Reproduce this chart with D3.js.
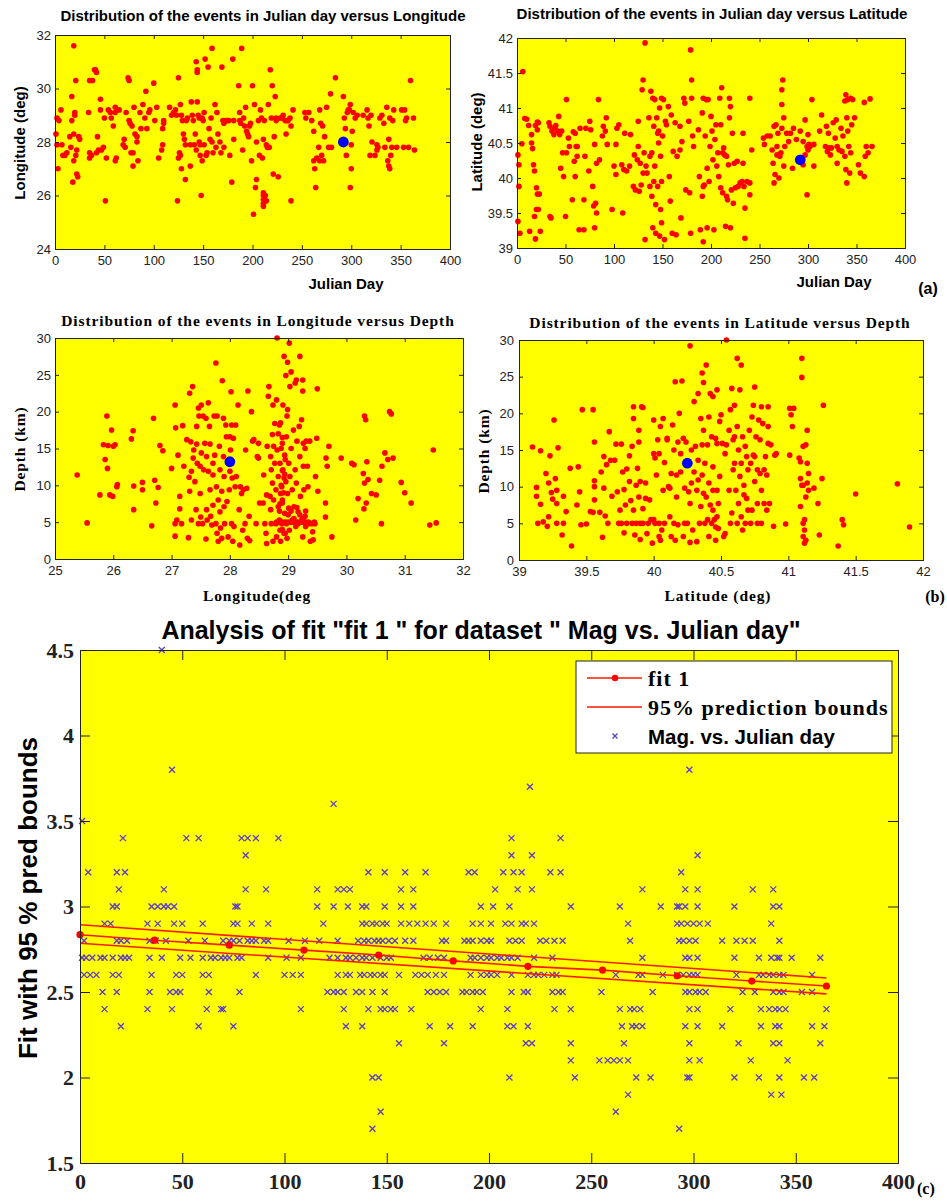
<!DOCTYPE html>
<html>
<head>
<meta charset="utf-8">
<script src="https://cdn.jsdelivr.net/npm/d3@7"></script>
<style>
  body { margin: 0; background: #fff; }
  svg { display: block; }
</style>
</head>
<body>
<script>

// ---- panel 1: julian day vs longitude ----
var dayLon = [[1,28.3],[2,28.9],[2,27.9],[3,27.0],[6,29.2],[4,28.8],[7,27.9],[8,27.5],[10,27.5],[12,27.6],[15,28.2],[16,27.8],[17,29.7],[17,28.8],[18,26.5],[19,28.3],[19,31.6],[19,27.3],[20,29.1],[20,29.0],[21,30.3],[21,27.5],[22,27.7],[22,26.8],[23,26.7],[24,28.2],[25,28.1],
  [34,29.1],[35,30.3],[35,27.6],[35,27.4],[37,27.5],[38,30.3],[40,30.7],[41,30.7],[42,30.6],[42,27.6],[43,28.2],[44,27.7],[46,29.6],[46,29.2],[47,27.7],[49,27.8],[50,28.9],[51,25.8],[52,27.4],[54,29.2],[56,29.1],[57,28.9],[59,28.6],[61,29.3],[61,29.1],[61,27.3],[62,27.4],[65,29.2],
  [69,27.9],[70,28.1],[71,27.8],[72,29.1],[74,30.4],[75,30.3],[75,28.8],[76,28.7],[77,27.6],[78,28.6],[79,27.6],[79,27.1],[80,29.3],[81,28.3],[83,28.0],[83,28.2],[84,27.3],[86,29.1],[87,28.5],[89,29.4],[91,28.9],[92,29.9],[93,28.5],[95,29.1],[96,29.2],[100,30.2],[101,28.8],[103,29.3],[105,27.4],[108,27.7],[109,27.9],[109,28.5],[110,28.7],[110,28.8],
  [116,29.3],[118,29.0],[120,29.1],[122,29.2],[123,29.0],[125,30.4],[124,25.8],[125,27.4],[126,27.6],[127,29.4],[127,27.5],[128,27.0],[128,29.0],[129,28.8],[130,28.3],[131,28.1],[132,26.6],[132,27.9],[133,28.8],[134,28.9],[137,27.1],[137,27.9],[138,29.5],[139,29.0],[140,28.8],[141,27.9],[142,28.3],[143,27.7],[143,31.0],[144,30.7],[144,29.5],[144,30.6],[145,29.0],[146,28.9],[146,28.0],[147,27.9],[147,27.5],[148,26.0],[149,28.9],[149,27.3],[150,28.8],[151,29.1],[151,27.9],[152,31.1],[153,27.5],[154,27.6],[155,30.8],[156,28.5],[157,28.1],[158,28.9],[159,31.5],[159,28.0],[160,27.6],[162,29.4],[163,27.8],[164,29.1],[165,28.3],[167,28.0],[168,27.6],[169,30.8],[170,28.8],[171,28.7],[171,27.8],[173,28.8],[174,28.8],[176,28.8],[177,27.5],[179,26.5],[180,31.1],[181,28.8],[181,28.1],
  [186,30.1],[187,29.1],[187,28.8],[188,28.7],[189,31.5],[190,27.7],[191,28.9],[192,28.6],[193,29.3],[194,28.4],[195,28.3],[196,28.2],[197,28.6],[198,28.7],[199,27.3],[200,30.1],[201,25.3],[202,29.4],[203,26.3],[204,26.6],[204,28.0],[206,28.8],[207,27.5],[208,29.2],[209,28.9],[210,27.4],[211,28.1],[212,28.8],[213,26.0],[214,25.8],[214,27.9],[215,27.8],[216,29.4],[217,27.8],[218,30.7],[219,28.9],[220,30.1],[221,26.8],[222,28.2],[223,29.7],[224,28.8],[224,28.9],[226,26.7],[228,28.9],[230,28.9],[231,29.0],[233,28.8],[234,28.3],[235,28.8],[236,28.8],[238,28.9],[239,25.8],[239,28.6],[241,29.2],
  [211,25.6],[211,25.7],[211,25.85],[211,26.0],[211,26.1],
  [253,29.1],[254,28.9],[257,29.1],[260,28.8],[262,28.4],[262,27.3],[263,27.0],[264,26.3],[265,27.4],[267,27.8],[268,27.3],[268,29.2],[269,28.7],[270,27.5],[271,28.6],[272,27.3],[273,28.2],[275,29.3],[277,27.8],[279,29.8],[280,27.8],[284,30.4],
  [292,29.7],[293,28.9],[294,28.5],[295,27.5],[296,29.1],[297,29.2],[298,29.2],[299,26.3],[299,29.4],[300,27.0],[300,27.9],[301,28.4],[302,29.1],[304,28.9],[306,29.0],
  [312,29.0],[316,29.2],[317,28.9],[318,28.6],[319,27.5],[320,29.0],[321,28.0],[324,27.5],[326,27.7],[326,27.9],[327,27.8],[329,28.9],[331,29.0],[333,28.7],[334,27.8],[336,29.3],[337,27.3],[338,28.1],[338,27.1],[339,27.0],[339,28.9],[340,27.5],[341,27.8],[342,28.8],[343,29.2],[346,27.8],[351,29.2],[353,27.8],[354,29.2],[355,28.8],[356,28.9],[358,27.8],[360,30.3],[363,28.9],[364,27.7]];
var mainDayLon = [292, 28.0];

// ---- panel 2: julian day vs latitude ----
var dayLat = [[1,40.33],[2,40.19],[2,39.88],[1,39.38],[3,39.21],[5,40.49],[6,41.52],[8,40.85],[10,40.84],[12,40.75],[13,39.24],[15,40.62],[15,40.5],[16,40.42],[17,40.19],[18,40.1],[18,39.45],[19,39.13],[20,39.86],[21,39.77],[20,39.55],[22,39.55],[21,40.8],[22,40.79],[19,40.75],[21,40.69],[24,39.24],[23,39.77],
  [33,40.79],[34,40.74],[34,39.45],[35,39.43],[36,40.67],[38,40.62],[39,40.71],[40,40.75],[42,40.67],[43,40.88],[44,40.62],[45,40.14],[46,40.67],[47,40.36],[48,40.02],[50,39.45],[51,41.12],[51,40.36],[53,40.57],[54,40.45],[57,39.69],[58,40.66],[59,40.24],[60,40.64],[60,40.02],[61,40.45],[62,40.31],[62,40.45],[64,39.26],[65,40.71],[69,39.26],[69,39.69],[70,40.31],[71,40.71],[74,40.1],[75,40.81],[76,40.69],[78,39.88],[79,39.6],[80,40.48],[80,39.29],[81,39.64],[82,40.21],[82,39.5],[84,41.12],[85,40.26],[88,40.6],[89,40.74],[92,40.86],[93,40.48],[91,40.67],[98,39.55],[100,40.17],[102,40.05],[103,40.71],[102,40.48],[105,40.76],[108,40.19],[109,39.5],[110,40.12],[111,40.64],[113,40.1],[116,40.17],[117,40.62],
  [120,39.88],[121,40.33],[122,39.83],[124,40.26],[125,40.81],[125,40.45],[126,39.81],[127,40.21],[128,39.9],[129,41.26],[130,41.4],[130,40.07],[131,40.36],[132,41.93],[132,39.12],[133,40.17],[134,40.07],[136,40.86],[137,39.88],[137,40.31],[138,41.24],[139,40.36],[139,39.74],[140,41.14],[140,39.29],[141,39.95],[141,40.74],[142,40.17],[142,41.12],[143,39.62],[143,39.21],[144,40.86],[145,40.64],[145,39.88],[146,40.67],[146,40.5],[147,41.0],[147,39.17],[148,40.31],[148,39.55],[149,39.95],[149,39.36],[149,41.14],[150,40.6],[151,41.12],[152,39.12],[153,40.81],[154,40.76],[156,41.02],[157,40.02],[158,39.67],[159,40.9],[160,39.21],[161,40.38],[163,40.79],[164,39.19],[165,40.31],[168,40.4],[168,40.74],[169,39.43],[170,40.52],[172,41.14],[173,41.07],[174,39.83],[177,40.81],[178,39.79],[179,39.21],[179,41.83],[180,41.4],[180,41.14],[181,40.6],[182,40.45],
  [187,40.69],[188,40.02],[189,39.26],[191,40.93],[191,39.74],[192,41.14],[192,39.09],[192,39.88],[193,39.9],[194,40.6],[195,41.12],[196,40.14],[196,39.29],[197,41.12],[198,39.95],[199,40.45],[200,40.88],[201,40.67],[202,40.26],[203,39.26],[204,40.55],[205,40.76],[206,40.17],[207,40.36],[208,40.02],[209,41.14],[210,39.86],[210,40.76],[211,41.29],[212,40.36],[212,39.79],[213,40.43],[214,40.33],[215,39.31],[216,39.74],[216,40.31],[217,39.69],[218,40.19],[219,40.86],[219,41.14],[220,41.02],[220,39.29],[221,39.83],[222,40.64],[223,39.64],[224,40.21],[225,39.86],[227,40.24],[228,39.88],[230,39.93],[232,39.95],[233,40.64],[233,40.21],[234,39.88],[235,39.57],[235,39.14],[237,39.95],[240,39.93],[240,41.14],[240,39.76],[242,40.4],
  [254,40.57],[255,40.48],[258,40.6],[261,40.6],[263,40.4],[264,40.21],[265,40.74],[265,39.93],[266,40.05],[267,40.76],[268,40.33],[268,40.45],[269,40.64],[270,40.0],[271,40.31],[272,40.36],[273,41.05],[273,40.71],[273,41.26],[274,41.4],[275,40.86],[275,40.17],[276,40.45],[278,40.64],[280,40.52],[282,40.64],[285,40.71],[284,40.14],[288,40.55],[292,40.67],[295,40.52],[295,40.19],[297,40.83],[297,40.33],[299,40.45],[299,39.76],[300,40.62],[300,40.4],[301,40.48],[302,40.45],[304,41.12],[306,40.17],[306,40.48],
  [312,40.67],[314,40.9],[318,40.45],[319,40.74],[320,40.38],[321,40.64],[322,40.43],[323,40.33],[324,40.43],[326,40.79],[328,40.57],[329,40.83],[330,40.21],[330,40.45],[332,40.4],[334,40.71],[335,40.38],[336,40.6],[338,40.31],[338,41.1],[339,41.19],[339,40.12],[340,40.86],[340,39.93],[341,40.67],[341,41.12],[342,40.45],[343,40.07],[344,41.14],[344,40.36],[345,40.76],[346,41.12],[348,40.86],[352,40.19],[354,40.07],[358,41.08],[358,40.02],[359,40.31],[360,40.45],[362,40.36],[364,41.13],[366,40.45]];
var mainDayLat = [292, 40.26];

// ---- panel 3: longitude vs depth ----
var lonDepth = [[25.38,11.4],[25.55,4.9],[25.77,8.7],[25.83,15.5],[25.86,13.5],[25.89,19.4],[25.9,12.3],[25.91,15.4],[25.94,8.7],[25.97,17.5],[25.99,8.5],[26.0,15.3],[26.03,15.5],[26.06,9.8],[26.07,10.1],[26.31,16.3],[26.34,17.4],[26.35,9.9],[26.35,6.7],[26.5,10.4],[26.5,9.4],[26.66,4.5],[26.69,19.1],[26.71,10.7],[26.73,7.6],[26.77,9.7],[26.8,15.4],[26.85,14.7],
  [27.0,12.3],[27.06,4.8],[27.06,3.1],[27.07,17.8],[27.06,20.9],[27.09,5.3],[27.11,14.1],[27.14,8.5],[27.14,6.8],[27.17,4.8],[27.19,18.1],[27.21,12.6],[27.26,16.2],[27.29,2.9],[27.3,11.1],[27.31,22.5],[27.31,9.2],[27.33,15.9],[27.34,11.9],[27.34,5.3],[27.36,23.4],[27.37,13.7],[27.38,14.8],[27.4,10.5],[27.42,6.7],[27.43,18.0],[27.43,15.6],[27.44,13.0],[27.46,20.5],[27.46,4.8],[27.47,19.4],[27.49,12.6],[27.49,8.9],[27.5,5.7],[27.51,20.9],[27.51,14.4],[27.53,4.8],[27.54,19.4],[27.55,12.1],[27.57,15.7],[27.59,19.1],[27.59,2.7],[27.6,13.9],[27.6,6.7],[27.61,5.3],[27.63,21.2],[27.63,11.9],[27.65,18.0],[27.66,15.6],[27.66,9.4],[27.67,5.8],[27.69,4.6],[27.71,13.0],[27.71,7.3],[27.71,11.4],[27.73,19.4],[27.74,14.1],[27.76,26.6],[27.76,4.8],[27.77,9.8],[27.78,3.5],[27.78,19.4],[27.8,8.0],[27.8,2.4],[27.82,15.3],[27.83,12.1],[27.83,6.4],[27.84,4.2],[27.86,9.2],[27.86,2.8],[27.87,24.2],[27.89,19.1],[27.89,13.9],[27.9,11.2],[27.9,7.1],[27.91,4.8],[27.93,18.2],[27.94,16.6],[27.95,7.8],[27.97,3.0],[27.99,9.4],[28.0,16.6],[28.0,11.9],[28.01,14.8],[28.02,22.7],[28.03,4.8],[28.03,18.2],[28.04,11.0],[28.05,2.4],[28.06,16.4],[28.07,4.4],[28.09,9.8],[28.1,18.2],[28.11,11.2],[28.14,20.9],[28.16,6.7],[28.17,1.9],[28.18,9.8],[28.2,8.9],[28.22,3.9],[28.23,9.4],[28.26,4.8],[28.27,14.8],[28.29,9.6],[28.3,2.8],[28.31,22.8],[28.33,5.8],[28.34,2.5],[28.37,20.0],[28.39,16.0],[28.41,16.2],[28.45,4.8],[28.47,13.9],[28.49,13.7],[28.49,15.7],[28.51,7.6],
  [28.57,7.6],[28.58,11.4],[28.6,4.8],[28.62,3.5],[28.63,2.1],[28.63,8.7],[28.64,15.3],[28.66,22.1],[28.67,23.4],[28.69,8.5],[28.7,6.7],[28.7,13.9],[28.71,4.8],[28.71,12.1],[28.73,10.3],[28.73,16.9],[28.74,20.9],[28.74,2.4],[28.75,15.3],[28.75,8.0],[28.77,18.4],[28.77,13.0],[28.79,9.4],[28.79,4.8],[28.8,21.6],[28.8,3.0],[28.81,30.0],[28.81,14.8],[28.83,7.1],[28.83,11.2],[28.85,18.2],[28.85,5.3],[28.86,3.9],[28.86,13.0],[28.87,8.9],[28.87,2.4],[28.89,9.8],[28.89,4.8],[28.9,15.7],[28.9,7.6],[28.91,20.9],[28.91,12.1],[28.93,27.5],[28.93,3.5],[28.94,6.2],[28.94,14.1],[28.96,24.9],[28.96,10.5],[28.97,16.6],[28.97,4.8],[28.98,19.4],[28.98,2.8],[28.99,26.7],[28.99,20.3],[28.99,8.9],[29.01,6.9],[29.01,13.0],[29.02,29.3],[29.02,3.9],[29.03,23.4],[29.03,11.2],[29.05,25.4],[29.05,15.0],[29.07,5.3],[29.07,9.4],[29.09,17.5],[29.1,7.1],[29.12,23.9],[29.12,12.1],[29.13,4.4],[29.14,24.3],[29.14,10.3],[29.15,16.0],[29.17,6.4],[29.17,4.8],[29.19,18.0],[29.2,27.5],[29.2,13.9],[29.21,8.5],[29.23,18.9],[29.23,5.3],[29.25,24.3],[29.25,22.8],[29.25,3.0],[29.26,15.7],[29.26,12.6],[29.27,9.4],[29.29,5.8],[29.29,15.0],[29.3,4.4],[29.31,16.0],[29.33,12.6],[29.34,9.8],[29.34,4.8],[29.37,16.0],[29.38,2.4],[29.4,4.8],[29.42,3.7],[29.43,2.6],[29.46,4.8],[29.47,11.2],[29.49,16.4],[29.5,23.1],[29.51,9.2],
  [28.8,5.0],[28.85,5.0],[28.9,5.0],[28.95,5.0],[29.0,5.0],[29.05,5.0],[29.1,5.0],[29.15,5.0],[29.2,5.0],[29.25,5.0],[29.3,5.0],[29.35,5.0],[29.45,5.0],[28.9,4.0],[28.95,3.5],[29.0,6.0],[28.85,6.5],[28.9,8.0],[28.92,9.0],[28.88,10.0],[28.93,11.0],[28.9,12.0],[28.95,13.5],[28.88,15.0],[28.83,17.0],[28.87,18.5],[28.9,16.5],[28.94,11.5],[28.86,7.5],[29.05,6.5],[29.1,5.5],[29.2,6.0],[29.15,7.0],[29.25,5.5],[29.3,6.5],
  [29.64,7.6],[29.64,5.7],[29.65,13.7],[29.67,12.6],[29.7,15.3],[29.75,3.0],[29.91,13.7],[30.09,13.0],[30.13,12.8],[30.16,5.3],[30.2,8.2],[30.29,11.6],[30.3,6.8],[30.31,10.3],[30.31,19.4],[30.33,18.9],[30.34,7.6],[30.35,13.2],[30.37,10.8],[30.43,8.9],[30.51,8.7],[30.57,10.7],[30.6,4.8],[30.61,12.6],[30.66,14.4],[30.71,13.5],[30.74,20.0],[30.77,19.7],[30.8,13.7],[30.94,10.4],[31.0,9.0],[31.11,7.6],[31.43,4.6],[31.49,14.8],[31.54,4.9]];
var mainLonDepth = [28.0, 13.2];

// ---- panel 4: latitude vs depth ----
var latDepth = [[39.1,15.4],[39.13,9.9],[39.13,8.7],[39.14,5.0],[39.16,7.6],[39.16,14.9],[39.18,5.2],[39.2,11.8],[39.21,4.6],[39.22,5.9],[39.22,10.5],[39.23,14.2],[39.24,9.2],[39.25,8.3],[39.26,19.1],[39.27,11.1],[39.28,7.7],[39.28,9.5],[39.28,5.0],[39.29,15.3],[39.32,3.4],[39.33,5.0],[39.33,8.7],[39.35,6.6],[39.38,12.5],[39.39,1.9],[39.43,7.5],[39.44,12.7],[39.45,9.3],[39.46,4.8],[39.47,20.5],[39.5,4.9],[39.53,6.6],[39.55,20.5],[39.55,6.5],[39.56,16.1],[39.56,10.8],[39.56,10.0],[39.56,8.2],[39.6,6.5],[39.61,12.0],[39.62,3.1],[39.63,14.1],[39.63,9.8],[39.64,6.0],[39.65,13.0],[39.66,5.0],[39.67,17.5],[39.68,13.6],[39.69,8.7],[39.71,13.6],[39.72,15.8],[39.73,9.3],[39.74,5.0],[39.75,6.8],[39.76,15.8],[39.76,5.0],[39.77,12.0],[39.78,9.6],[39.78,3.7],[39.79,7.5],[39.8,5.0],[39.8,12.4],[39.82,10.7],[39.82,14.2],[39.83,8.1],[39.84,5.0],[39.84,15.5],[39.85,20.9],[39.85,6.8],[39.85,19.3],[39.86,3.4],[39.87,10.2],[39.87,5.0],[39.88,12.5],[39.89,16.1],[39.89,8.6],[39.89,17.7],[39.9,5.0],[39.9,2.8],[39.9,10.7],[39.91,20.9],[39.92,7.0],[39.92,5.0],[39.92,20.8],[39.94,10.5],[39.94,8.4],[39.95,3.6],[39.96,5.0],[39.97,8.2],[39.98,5.5],[39.99,2.3],
  [40.0,5.5],[40.0,14.5],[40.0,19.1],[40.01,13.9],[40.01,5.0],[40.02,11.6],[40.03,16.4],[40.04,5.0],[40.04,3.2],[40.04,14.5],[40.05,18.2],[40.05,2.7],[40.06,4.1],[40.07,19.3],[40.07,9.5],[40.08,5.0],[40.08,13.3],[40.1,16.6],[40.1,16.4],[40.11,10.0],[40.12,5.9],[40.12,9.8],[40.13,3.2],[40.13,11.8],[40.14,18.4],[40.15,5.0],[40.15,15.0],[40.16,24.3],[40.16,2.7],[40.17,11.6],[40.17,8.6],[40.18,4.8],[40.18,16.1],[40.19,20.0],[40.2,14.5],[40.2,12.0],[40.21,24.4],[40.22,16.6],[40.22,3.2],[40.23,5.0],[40.23,9.8],[40.24,16.1],[40.25,13.2],[40.25,5.0],[40.26,9.3],[40.27,7.7],[40.27,29.2],[40.27,2.4],[40.28,10.5],[40.28,15.0],[40.29,4.1],[40.3,21.6],[40.3,12.0],[40.31,15.5],[40.32,9.5],[40.32,2.5],[40.33,13.6],[40.33,22.7],[40.33,10.9],[40.34,5.0],[40.35,19.3],[40.35,7.3],[40.36,25.5],[40.36,15.7],[40.36,11.6],[40.37,17.7],[40.37,9.1],[40.37,24.2],[40.38,5.0],[40.38,13.2],[40.39,8.6],[40.39,26.6],[40.4,15.7],[40.4,5.5],[40.41,10.5],[40.41,19.5],[40.41,3.2],[40.42,22.7],[40.42,7.5],[40.43,16.8],[40.43,5.0],[40.44,22.3],[40.44,12.7],[40.44,9.5],[40.44,6.8],[40.45,5.5],[40.46,4.5],[40.46,16.6],[40.46,2.7],[40.47,9.5],[40.47,5.9],[40.47,23.2],[40.47,15.9],[40.48,7.7],[40.48,4.3],[40.49,18.9],[40.49,11.4],[40.5,19.8],[40.51,15.9],[40.52,3.2],[40.53,3.6],[40.53,14.5],[40.54,30.0],[40.54,15.7],[40.56,17.7],[40.56,9.5],[40.57,5.0],[40.57,20.5],[40.58,23.4],[40.58,6.4],[40.59,16.4],[40.59,12.3],[40.6,13.2],[40.6,21.1],[40.6,16.8],[40.61,9.5],[40.62,5.0],[40.62,27.5],[40.62,18.2],[40.63,7.7],[40.63,15.0],[40.64,11.4],[40.64,23.2],[40.65,5.9],[40.65,26.6],[40.65,13.2],[40.66,4.1],[40.66,16.8],[40.67,8.9],[40.67,10.2],[40.68,15.5],[40.68,5.0],[40.69,8.4],[40.69,14.1],[40.7,12.3],[40.7,6.8],[40.71,17.7],[40.72,13.2],[40.72,5.0],[40.73,6.8],[40.73,19.5],[40.74,14.3],[40.74,21.1],[40.75,23.6],[40.75,10.7],[40.75,14.1],[40.76,16.8],[40.77,12.3],[40.77,7.7],[40.77,5.0],[40.78,19.1],[40.79,11.8],[40.79,16.4],[40.8,9.5],[40.8,20.9],[40.8,5.0],[40.81,18.6],[40.82,12.3],[40.82,7.7],[40.83,14.1],[40.84,6.8],[40.84,11.6],[40.85,15.9],[40.85,20.9],[40.85,18.2],[40.86,7.7],[40.87,15.7],[40.89,4.6],[40.9,14.3],[40.91,14.5],
  [40.98,4.9],[41.01,20.7],[41.01,14.3],[41.02,19.8],[41.03,18.2],[41.04,20.7],[41.08,13.9],[41.09,13.4],[41.09,11.1],[41.09,7.3],[41.1,27.5],[41.1,24.9],[41.1,10.2],[41.11,5.0],[41.11,3.2],[41.11,15.5],[41.11,10.2],[41.12,2.3],[41.12,5.5],[41.12,4.1],[41.13,2.7],[41.13,8.6],[41.13,15.7],[41.14,10.5],[41.14,17.7],[41.14,13.2],[41.15,11.8],[41.15,9.5],[41.19,9.8],[41.22,7.7],[41.23,3.4],[41.25,11.1],[41.26,21.1],[41.37,1.9],[41.4,5.5],[41.41,4.8],[41.5,9.0],[41.81,10.4],[41.9,4.5]];
var mainLatDepth = [40.25, 13.2];

// ---- panel 5: magnitude vs julian day, grouped by magnitude ----
var magLevels = [4.5, 3.8, 3.7, 3.6, 3.5, 3.4, 3.3, 3.2, 3.1, 3.0, 2.9, 2.8, 2.7, 2.6, 2.5, 2.4, 2.3, 2.2, 2.1, 2.0, 1.9, 1.8, 1.7];
var magDays = [
  [40],
  [45, 298],
  [220],
  [124],
  [1],
  [21, 52, 58, 79, 82, 86, 97, 211, 235],
  [81, 211, 221, 302],
  [4, 18, 22, 141, 149, 159, 169, 190, 193, 207, 212, 216, 230, 235, 294],
  [19, 41, 81, 91, 116, 126, 129, 132, 157, 163, 203, 214, 221, 275, 296, 302, 329, 339],
  [16, 18, 35, 38, 41, 43, 46, 76, 77, 116, 124, 131, 138, 140, 149, 157, 163, 196, 202, 210, 240, 264, 284, 292, 293, 296, 302, 320, 339, 342],
  [12, 15, 33, 38, 46, 50, 60, 75, 77, 84, 92, 119, 138, 140, 143, 145, 148, 150, 157, 161, 165, 169, 173, 179, 192, 196, 201, 208, 211, 216, 218, 222, 268, 292, 294, 297, 300, 303, 307, 338],
  [2, 18, 20, 23, 34, 37, 42, 53, 61, 70, 73, 75, 78, 82, 84, 86, 90, 92, 102, 110, 117, 126, 136, 139, 141, 144, 146, 148, 151, 154, 159, 163, 177, 179, 188, 190, 192, 196, 199, 201, 210, 213, 216, 225, 228, 232, 236, 269, 293, 295, 298, 301, 314, 321, 325, 329, 342],
  [1, 3, 6, 10, 12, 16, 20, 22, 24, 34, 40, 49, 54, 60, 64, 66, 69, 71, 73, 77, 79, 92, 101, 108, 122, 126, 130, 132, 135, 138, 140, 143, 147, 150, 152, 168, 171, 175, 178, 191, 193, 196, 199, 201, 204, 206, 209, 211, 214, 222, 231, 275, 296, 298, 302, 320, 332, 338, 341, 342, 348, 362],
  [2, 5, 8, 16, 19, 35, 47, 50, 60, 63, 86, 100, 104, 108, 126, 130, 132, 137, 139, 142, 144, 147, 149, 156, 164, 167, 170, 174, 178, 191, 196, 199, 201, 204, 211, 219, 222, 224, 227, 231, 233, 262, 273, 275, 285, 292, 295, 298, 300, 302, 321, 332, 334, 337, 339, 342, 344, 358],
  [11, 18, 34, 44, 47, 49, 63, 78, 121, 124, 126, 129, 135, 138, 143, 149, 170, 173, 176, 179, 187, 189, 192, 194, 197, 211, 217, 219, 231, 234, 236, 255, 280, 296, 298, 301, 303, 306, 324, 330, 339, 342, 344, 353, 358],
  [12, 33, 45, 62, 69, 70, 108, 129, 141, 147, 149, 152, 154, 162, 196, 209, 232, 240, 264, 269, 271, 274, 298, 302, 318, 333, 337, 340, 342, 345, 365],
  [20, 58, 75, 130, 138, 171, 181, 192, 209, 212, 219, 265, 270, 272, 275, 296, 302, 314, 333, 340, 342, 358, 364],
  [156, 178, 218, 221, 240, 266, 298, 322, 339, 342, 362],
  [240, 254, 258, 261, 264, 268, 298, 303, 328, 346],
  [143, 146, 210, 242, 272, 279, 297, 298, 320, 332, 342, 354, 359],
  [268, 338, 343],
  [147, 262],
  [143, 293]
];
// fitted line (points every 36.5 days) and prediction bounds
var fitDays = [0, 36.5, 73, 109.5, 146, 182.5, 219, 255.5, 292, 328.5, 365];
var fitMag = [2.835, 2.803, 2.774, 2.745, 2.716, 2.682, 2.65, 2.628, 2.595, 2.564, 2.535];
var boundDays = [0, 365];
var upperBound = [2.893, 2.582];
var lowerBound = [2.785, 2.489];

var W = 947, H = 1201;
var svg = d3.select("body").append("svg").attr("width", W).attr("height", H);

var SANS = "Arial, 'Liberation Sans', Helvetica, sans-serif";
var SERIF = "'Times New Roman', 'Liberation Serif', serif";

function fmt(d) { return String(d); }

// frame + inward ticks on all four sides
function frame(g, x, y, o) {
  var ax = g.append("g").attr("transform", "translate(0," + o.b + ")")
    .call(d3.axisBottom(x).tickValues(o.xt).tickSize(-o.tk).tickPadding(o.xpad).tickFormat(fmt));
  var ay = g.append("g").attr("transform", "translate(" + o.l + ",0)")
    .call(d3.axisLeft(y).tickValues(o.yt).tickSize(-o.tk).tickPadding(o.ypad).tickFormat(fmt));
  g.append("g").attr("transform", "translate(0," + o.t + ")")
    .call(d3.axisTop(x).tickValues(o.xt).tickSize(-o.tk).tickFormat(""));
  g.append("g").attr("transform", "translate(" + o.r + ",0)")
    .call(d3.axisRight(y).tickValues(o.yt).tickSize(-o.tk).tickFormat(""));
  [ax, ay].forEach(function(a) {
    a.attr("font-family", o.tf).attr("font-size", o.ts).attr("font-weight", o.tw || "normal");
    a.selectAll("text").attr("fill", "#222");
  });
  g.selectAll(".domain").attr("stroke", "#222");
  g.selectAll(".tick line").attr("stroke", "#222");
}

function scatter(o) {
  var x = d3.scaleLinear().domain(o.xd).range([o.l, o.r]);
  var y = d3.scaleLinear().domain(o.yd).range([o.b, o.t]);
  var g = svg.append("g");
  g.append("rect").attr("x", o.l).attr("y", o.t).attr("width", o.r - o.l).attr("height", o.b - o.t)
    .attr("fill", "#ffff00");
  g.selectAll("circle.pt").data(o.pts).enter().append("circle")
    .attr("class", "pt")
    .attr("cx", function(d) { return x(d[0]); })
    .attr("cy", function(d) { return y(d[1]); })
    .attr("r", 2.8)
    .attr("fill", "#ff0000");
  g.append("circle").attr("cx", x(o.main[0])).attr("cy", y(o.main[1])).attr("r", 5.4).attr("fill", "#0000ff");
  frame(g, x, y, o);

  var ls = o.ls || 0;
  g.append("text").attr("x", o.titleX).attr("y", o.titleY).attr("text-anchor", "middle")
    .attr("font-family", o.lf).attr("font-weight", "bold").attr("font-size", o.titleS)
    .attr("letter-spacing", ls)
    .text(o.title);
  g.append("text").attr("x", o.xlX).attr("y", o.xlY).attr("text-anchor", "middle")
    .attr("font-family", o.lf).attr("font-weight", "bold").attr("font-size", o.labS)
    .attr("letter-spacing", ls)
    .text(o.xl);
  g.append("text").attr("transform", "translate(" + o.ylX + "," + o.ylY + ") rotate(-90)")
    .attr("text-anchor", "middle")
    .attr("font-family", o.lf).attr("font-weight", "bold").attr("font-size", o.labS)
    .attr("letter-spacing", ls)
    .text(o.yl);
}

scatter({ pts: dayLon, main: mainDayLon, xd: [0, 400], yd: [24, 32], l: 55, r: 450, t: 35, b: 249,
  xt: d3.range(0, 401, 50), yt: [24, 26, 28, 30, 32], tk: 4, xpad: 7, ypad: 4, tf: SANS, ts: 13,
  lf: SANS, title: "Distribution of the events in Julian day versus Longitude", titleX: 263, titleY: 21, titleS: 15,
  xl: "Julian Day", xlX: 346, xlY: 289, yl: "Longitude (deg)", ylX: 25, ylY: 143, labS: 15 });

scatter({ pts: dayLat, main: mainDayLat, xd: [0, 400], yd: [39, 42], l: 517, r: 905, t: 38, b: 248,
  xt: d3.range(0, 401, 50), yt: [39, 39.5, 40, 40.5, 41, 41.5, 42], tk: 4, xpad: 7, ypad: 4, tf: SANS, ts: 13,
  lf: SANS, title: "Distribution of the events in Julian day versus Latitude", titleX: 712, titleY: 19, titleS: 15,
  xl: "Julian Day", xlX: 834, xlY: 287, yl: "Latitude (deg)", ylX: 482, ylY: 142, labS: 15 });

scatter({ pts: lonDepth, main: mainLonDepth, xd: [25, 32], yd: [0, 30], l: 55, r: 463, t: 338, b: 559,
  xt: d3.range(25, 33, 1), yt: [0, 5, 10, 15, 20, 25, 30], tk: 4, xpad: 7, ypad: 4, tf: SANS, ts: 13,
  lf: SERIF, ls: 0.9, title: "Distribution of the events in  Longitude versus Depth", titleX: 258, titleY: 326, titleS: 15.5,
  xl: "Longitude(deg", xlX: 257, xlY: 601, yl: "Depth (km)", ylX: 25, ylY: 449, labS: 15.5 });

scatter({ pts: latDepth, main: mainLatDepth, xd: [39, 42], yd: [0, 30], l: 519, r: 923, t: 340, b: 560,
  xt: [39, 39.5, 40, 40.5, 41, 41.5, 42], yt: [0, 5, 10, 15, 20, 25, 30], tk: 4, xpad: 7, ypad: 5, tf: SANS, ts: 13,
  lf: SERIF, ls: 0.9, title: "Distribution of the events in Latitude versus Depth", titleX: 720, titleY: 328, titleS: 15.5,
  xl: "Latitude (deg)", xlX: 718, xlY: 601, yl: "Depth (km)", ylX: 489, ylY: 451, labS: 15.5 });

svg.append("text").attr("x", 928).attr("y", 294).attr("text-anchor", "middle")
  .attr("font-family", SANS).attr("font-weight", "bold").attr("font-size", 16).text("(a)");
svg.append("text").attr("x", 935).attr("y", 602).attr("text-anchor", "middle")
  .attr("font-family", SERIF).attr("font-weight", "bold").attr("font-size", 16).text("(b)");

// ---- panel 5 ----
(function() {
  var o = { l: 80, r: 898, t: 650, b: 1163, xt: d3.range(0, 401, 50), yt: [1.5, 2, 2.5, 3, 3.5, 4, 4.5],
            tk: 10, xpad: 10, ypad: 6, tf: SERIF, ts: 22, tw: "bold" };
  var x = d3.scaleLinear().domain([0, 400]).range([o.l, o.r]);
  var y = d3.scaleLinear().domain([1.5, 4.5]).range([o.b, o.t]);
  var g = svg.append("g");
  g.append("rect").attr("x", o.l).attr("y", o.t).attr("width", o.r - o.l).attr("height", o.b - o.t)
    .attr("fill", "#ffff00");

  var pts = [];
  magLevels.forEach(function(m, i) {
    magDays[i].forEach(function(d) { pts.push([d, m]); });
  });
  var xmark = "M-3,-3L3,3M3,-3L-3,3";
  g.selectAll("path.mk").data(pts).enter().append("path")
    .attr("class", "mk")
    .attr("transform", function(d) { return "translate(" + x(d[0]) + "," + y(d[1]) + ")"; })
    .attr("d", xmark)
    .attr("stroke", "#5b3cc8").attr("stroke-width", 1.3).attr("fill", "none");

  var bl = d3.line().x(function(d) { return x(d[0]); }).y(function(d) { return y(d[1]); });
  g.append("path").attr("d", bl(d3.zip(boundDays, upperBound)))
    .attr("stroke", "#ff1a00").attr("stroke-width", 1.6).attr("fill", "none");
  g.append("path").attr("d", bl(d3.zip(boundDays, lowerBound)))
    .attr("stroke", "#ff1a00").attr("stroke-width", 1.6).attr("fill", "none");
  var fitPts = d3.zip(fitDays, fitMag);
  g.append("path").attr("d", bl(fitPts))
    .attr("stroke", "#ff1a00").attr("stroke-width", 1.6).attr("fill", "none");
  g.selectAll("circle.fit").data(fitPts).enter().append("circle")
    .attr("class", "fit")
    .attr("cx", function(d) { return x(d[0]); })
    .attr("cy", function(d) { return y(d[1]); })
    .attr("r", 3.6).attr("fill", "#ff0000");

  frame(g, x, y, o);

  // legend
  var lg = g.append("g");
  lg.append("rect").attr("x", 576).attr("y", 661).attr("width", 316).attr("height", 92)
    .attr("fill", "#fff").attr("stroke", "#222").attr("stroke-width", 1);
  lg.append("line").attr("x1", 587).attr("x2", 642).attr("y1", 678).attr("y2", 678)
    .attr("stroke", "#ff1a00").attr("stroke-width", 1.5);
  lg.append("circle").attr("cx", 615).attr("cy", 678).attr("r", 3.2).attr("fill", "#ff0000");
  lg.append("line").attr("x1", 587).attr("x2", 642).attr("y1", 707).attr("y2", 707)
    .attr("stroke", "#ff1a00").attr("stroke-width", 1.5);
  lg.append("path").attr("transform", "translate(615,736)").attr("d", "M-2.5,-2.5L2.5,2.5M2.5,-2.5L-2.5,2.5")
    .attr("stroke", "#5b3cc8").attr("stroke-width", 1.3);
  lg.append("text").attr("x", 648).attr("y", 686).attr("font-family", SERIF).attr("font-weight", "bold")
    .attr("font-size", 22).attr("letter-spacing", 1).text("fit 1");
  lg.append("text").attr("x", 648).attr("y", 715).attr("font-family", SERIF).attr("font-weight", "bold")
    .attr("font-size", 22).attr("letter-spacing", 1).text("95% prediction bounds");
  lg.append("text").attr("x", 648).attr("y", 744).attr("font-family", SANS).attr("font-weight", "bold")
    .attr("font-size", 20.5).text("Mag. vs. Julian day");

  svg.append("text").attr("x", 481).attr("y", 639).attr("text-anchor", "middle")
    .attr("font-family", SANS).attr("font-weight", "bold").attr("font-size", 25)
    .text("Analysis of fit \"fit 1 \" for dataset \" Mag vs. Julian day\"");
  svg.append("text").attr("transform", "translate(37,898) rotate(-90)").attr("text-anchor", "middle")
    .attr("font-family", SANS).attr("font-weight", "bold").attr("font-size", 26)
    .text("Fit with 95 % pred bounds");
  svg.append("text").attr("x", 917).attr("y", 1194)
    .attr("font-family", SERIF).attr("font-weight", "bold").attr("font-size", 16).text("(c)");
})();

</script>
</body>
</html>
